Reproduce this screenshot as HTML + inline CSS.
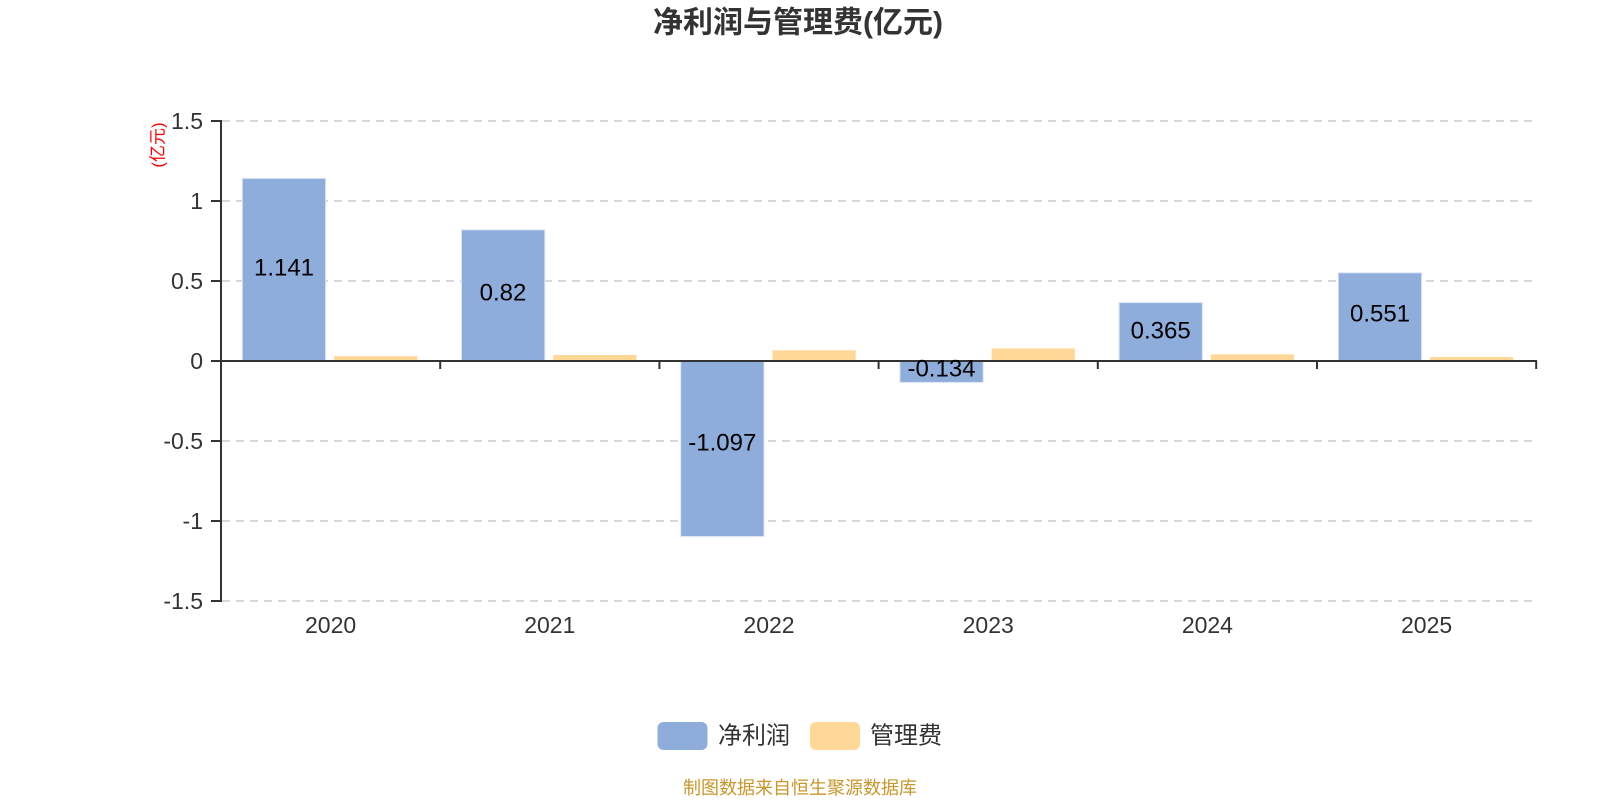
<!DOCTYPE html>
<html>
<head>
<meta charset="utf-8">
<style>
html,body{margin:0;padding:0;background:#fff;}
body{width:1600px;height:800px;overflow:hidden;}
svg{display:block;font-family:"Liberation Sans","Noto Sans CJK SC",sans-serif;}
</style>
</head>
<body>
<svg width="1600" height="800" viewBox="0 0 1600 800" xmlns="http://www.w3.org/2000/svg">
  <!-- Title -->
  <text x="798" y="23" text-anchor="middle" dominant-baseline="central" font-size="30" font-weight="bold" fill="#333">净利润与管理费(亿元)</text>

  <!-- Gridlines -->
  <g stroke="#cccccc" stroke-width="1.5" stroke-dasharray="8 6">
    <line x1="222" y1="121" x2="1537" y2="121"/>
    <line x1="222" y1="201" x2="1537" y2="201"/>
    <line x1="222" y1="281" x2="1537" y2="281"/>
    <line x1="222" y1="441" x2="1537" y2="441"/>
    <line x1="222" y1="521" x2="1537" y2="521"/>
    <line x1="222" y1="601" x2="1537" y2="601"/>
  </g>

  <!-- Unit label -->
  <text transform="translate(158,145) rotate(-90)" text-anchor="middle" dominant-baseline="central" font-size="17" fill="#ff0000">(亿元)</text>

  <!-- Bars: net profit (blue) -->
  <g fill="#8faddb" stroke="#dbe5f4" stroke-width="1">
    <rect x="242.3" y="178.4" width="83.3" height="182.6"/>
    <rect x="461.5" y="229.8" width="83.3" height="131.2"/>
    <rect x="680.7" y="361" width="83.3" height="175.5"/>
    <rect x="899.9" y="361" width="83.3" height="21.4"/>
    <rect x="1119.1" y="302.6" width="83.3" height="58.4"/>
    <rect x="1338.3" y="272.8" width="83.3" height="88.2"/>
  </g>
  <!-- Bars: admin expenses (orange) -->
  <g fill="#ffd898">
    <rect x="334" y="356.2" width="83.3" height="4.8"/>
    <rect x="553.2" y="355" width="83.3" height="6"/>
    <rect x="772.4" y="350.3" width="83.3" height="10.7"/>
    <rect x="991.6" y="348.4" width="83.3" height="12.6"/>
    <rect x="1210.8" y="354.3" width="83.3" height="6.7"/>
    <rect x="1430" y="357" width="83.3" height="4"/>
  </g>

  <!-- Axes -->
  <g stroke="#333" stroke-width="2" fill="none">
    <line x1="221" y1="120" x2="221" y2="602"/>
    <line x1="211" y1="121" x2="221" y2="121"/>
    <line x1="211" y1="201" x2="221" y2="201"/>
    <line x1="211" y1="281" x2="221" y2="281"/>
    <line x1="211" y1="361" x2="221" y2="361"/>
    <line x1="211" y1="441" x2="221" y2="441"/>
    <line x1="211" y1="521" x2="221" y2="521"/>
    <line x1="211" y1="601" x2="221" y2="601"/>
    <line x1="221" y1="361" x2="1537" y2="361"/>
    <line x1="440.2" y1="361" x2="440.2" y2="369"/>
    <line x1="659.4" y1="361" x2="659.4" y2="369"/>
    <line x1="878.6" y1="361" x2="878.6" y2="369"/>
    <line x1="1097.8" y1="361" x2="1097.8" y2="369"/>
    <line x1="1317" y1="361" x2="1317" y2="369"/>
    <line x1="1536.2" y1="361" x2="1536.2" y2="369"/>
  </g>

  <!-- Y labels -->
  <g font-size="23" fill="#333" text-anchor="end" dominant-baseline="central">
    <text x="203" y="121">1.5</text>
    <text x="203" y="201">1</text>
    <text x="203" y="281">0.5</text>
    <text x="203" y="361">0</text>
    <text x="203" y="441">-0.5</text>
    <text x="203" y="521">-1</text>
    <text x="203" y="601">-1.5</text>
  </g>

  <!-- X labels -->
  <g font-size="23" fill="#333" text-anchor="middle" dominant-baseline="central">
    <text x="330.6" y="625">2020</text>
    <text x="549.8" y="625">2021</text>
    <text x="769" y="625">2022</text>
    <text x="988.2" y="625">2023</text>
    <text x="1207.4" y="625">2024</text>
    <text x="1426.6" y="625">2025</text>
  </g>

  <!-- Value labels -->
  <g font-size="24" fill="#000" text-anchor="middle" dominant-baseline="central">
    <text x="284" y="268">1.141</text>
    <text x="503" y="293">0.82</text>
    <text x="722.3" y="443">-1.097</text>
    <text x="941.5" y="369">-0.134</text>
    <text x="1160.7" y="331">0.365</text>
    <text x="1380" y="314">0.551</text>
  </g>

  <!-- Legend -->
  <rect x="657.5" y="722" width="50" height="28" rx="6" fill="#8faddb"/>
  <text x="718" y="736" font-size="24" fill="#333" dominant-baseline="central">净利润</text>
  <rect x="810" y="722" width="50" height="28" rx="6" fill="#ffd898"/>
  <text x="870" y="736" font-size="24" fill="#333" dominant-baseline="central">管理费</text>

  <!-- Footer -->
  <text x="800" y="788" font-size="18" fill="#c9962b" text-anchor="middle" dominant-baseline="central">制图数据来自恒生聚源数据库</text>
</svg>
</body>
</html>
